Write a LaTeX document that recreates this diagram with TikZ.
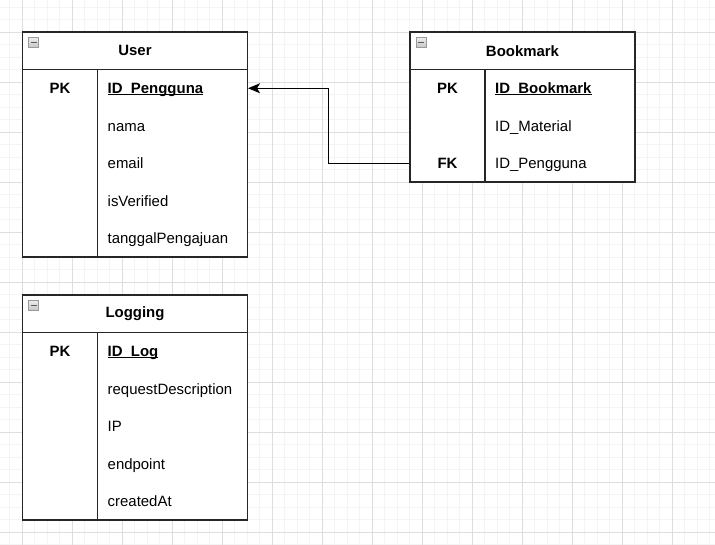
\documentclass[tikz,border=0pt]{standalone}
\usepackage{fontspec}
\setmainfont{Liberation Sans}
\usetikzlibrary{arrows.meta}
\newcommand\pkul[1]{\setbox0\hbox{#1}\rlap{\rule[-1.6bp]{\wd0}{1.2bp}}\box0}
\tikzset{
  minorgrid/.style={draw=gray!9,line width=0.8bp},
  majorgrid/.style={draw=gray!26,line width=0.9bp},
  tblbox/.style={draw=black!85,line width=1.1bp,fill=white,minimum width=225bp,inner sep=0pt},
  tblhead/.style={tblbox,minimum height=37.5bp,font=\fontsize{15}{18}\selectfont\bfseries},
  tblline/.style={draw=black!85,line width=1.1bp},
  keytext/.style={inner sep=0pt,text height=10.7bp,text depth=0pt,font=\fontsize{15}{18}\selectfont\bfseries},
  fieldtext/.style={anchor=west,inner sep=0pt,text height=10.7bp,text depth=0pt,font=\fontsize{15}{18}\selectfont},
  pkfield/.style={fieldtext,font=\fontsize{15}{18}\selectfont\bfseries},
  iconbox/.style={draw=gray!80,top color=gray!15,bottom color=gray!45,line width=0.7bp,minimum size=10bp,inner sep=0pt},
  fkline/.style={draw=black,line width=1bp,-{Stealth[length=12bp,width=10bp,inset=3bp]}}
}

\begin{document}
\begin{tikzpicture}

\useasboundingbox (0bp,0bp) rectangle (715bp,-545bp);
\fill[white] (0bp,0bp) rectangle (715bp,-545bp);
\foreach \i in {0,...,56} \draw[minorgrid] ({9.5bp+12.5bp*\i},0bp) -- ++(0bp,-545bp);
\foreach \i in {0,...,43} \draw[minorgrid] (0bp,{-7bp-12.5bp*\i}) -- ++(715bp,0bp);
\foreach \i in {0,...,14} \draw[majorgrid] ({22bp+50bp*\i},0bp) -- ++(0bp,-545bp);
\foreach \i in {0,...,10} \draw[majorgrid] (0bp,{-32bp-50bp*\i}) -- ++(715bp,0bp);

\node (User) at (135bp,-50.75bp)[tblhead] {User};
\node (UserBody) at (135bp,-163.25bp)[tblbox,minimum height=187.5bp] {};
\node (UserIcon) at (33.5bp,-42.5bp)[iconbox] {\textcolor{black!65}{\rule{6bp}{1.4bp}}};
\draw[tblline] (97.5bp,-69.5bp) -- (97.5bp,-257bp);
\node (UsrPK) at (60bp,-88.25bp)[keytext] {PK};
\node (UsrPengguna) at (107.5bp,-88.25bp)[pkfield] {\pkul{ID\_Pengguna}};
\node (UsrNama) at (107.5bp,-125.75bp)[fieldtext] {nama};
\node (UsrEmail) at (107.5bp,-163.25bp)[fieldtext] {email};
\node (UsrVerified) at (107.5bp,-200.75bp)[fieldtext] {isVerified};
\node (UsrTanggal) at (107.5bp,-238.25bp)[fieldtext] {tanggalPengajuan};

\node (Bookmark) at (522.5bp,-50.75bp)[tblhead] {Bookmark};
\node (BookmarkBody) at (522.5bp,-125.75bp)[tblbox,minimum height=112.5bp] {};
\node (BookmarkIcon) at (421bp,-42.5bp)[iconbox] {\textcolor{black!65}{\rule{6bp}{1.4bp}}};
\draw[tblline] (485bp,-69.5bp) -- (485bp,-182bp);
\node (BmPK) at (447.5bp,-88.25bp)[keytext] {PK};
\node (BmBookmark) at (495bp,-88.25bp)[pkfield] {\pkul{ID\_Bookmark}};
\node (BmMaterial) at (495bp,-125.75bp)[fieldtext] {ID\_Material};
\node (BmFK) at (447.5bp,-163.25bp)[keytext] {FK};
\node (BmPengguna) at (495bp,-163.25bp)[fieldtext] {ID\_Pengguna};

\node (Logging) at (135bp,-313.75bp)[tblhead] {Logging};
\node (LoggingBody) at (135bp,-426.25bp)[tblbox,minimum height=187.5bp] {};
\node (LoggingIcon) at (33.5bp,-305.5bp)[iconbox] {\textcolor{black!65}{\rule{6bp}{1.4bp}}};
\draw[tblline] (97.5bp,-332.5bp) -- (97.5bp,-520bp);
\node (LogPK) at (60bp,-351.25bp)[keytext] {PK};
\node (LogID) at (107.5bp,-351.25bp)[pkfield] {\pkul{ID\_Log}};
\node (LogRequest) at (107.5bp,-388.75bp)[fieldtext] {requestDescription};
\node (LogIP) at (107.5bp,-426.25bp)[fieldtext] {IP};
\node (LogEndpoint) at (107.5bp,-463.75bp)[fieldtext] {endpoint};
\node (LogCreated) at (107.5bp,-501.25bp)[fieldtext] {createdAt};

\draw[fkline] (BookmarkBody.west |- BmPengguna.west) -- ++(-81.25bp,0bp) |- (User.east |- UsrPengguna.west);
\end{tikzpicture}
\end{document}
